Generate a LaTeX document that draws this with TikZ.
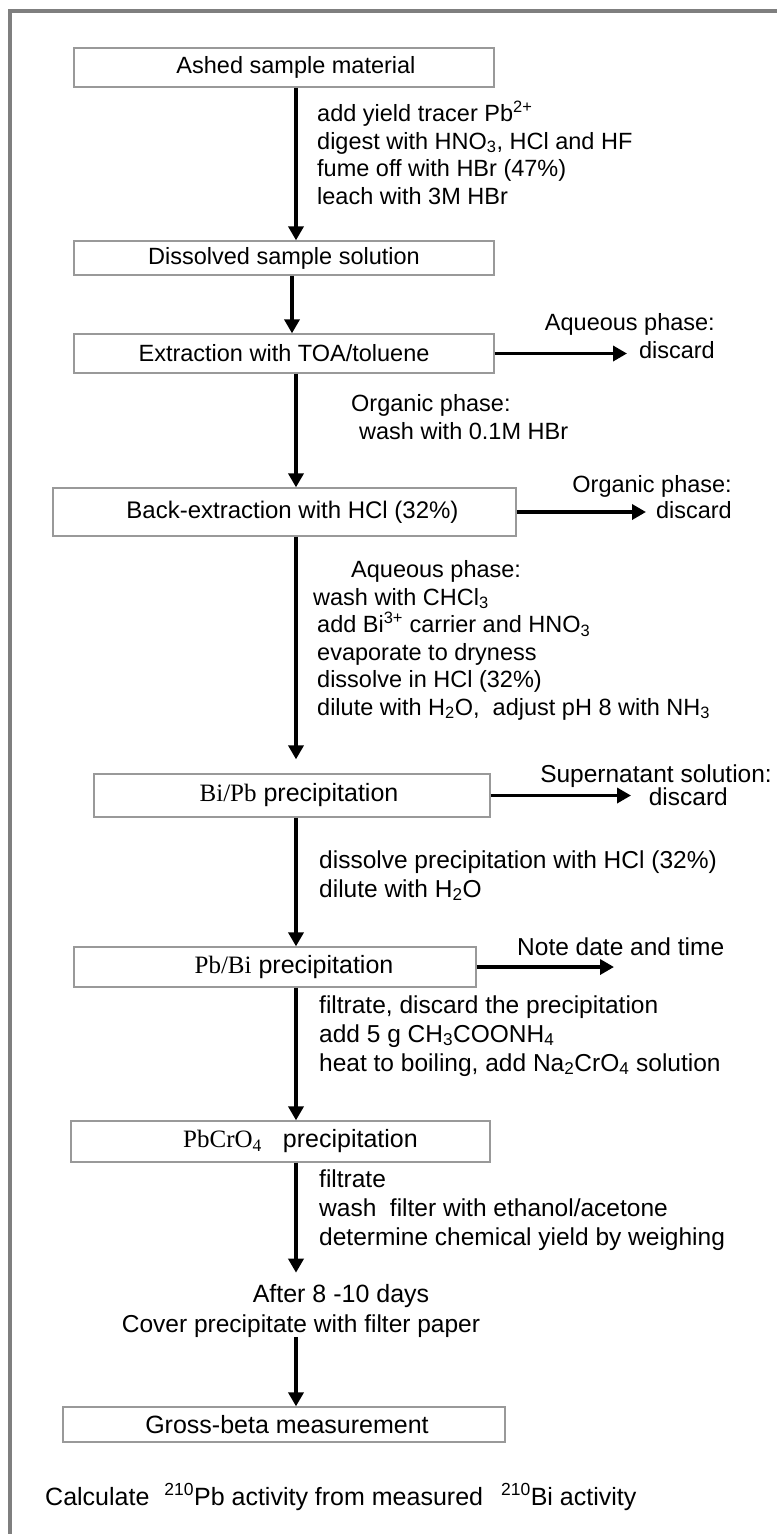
\documentclass[tikz,border=0pt]{standalone}
\usepackage{fontspec}
\setmainfont{Liberation Sans}
\newfontfamily\timesfont{Liberation Serif}
\usepackage{xcolor}
\usetikzlibrary{arrows.meta}
\definecolor{framegray}{HTML}{7F7F7F}
\definecolor{boxgray}{HTML}{999999}

\begin{document}
\begin{tikzpicture}[x=1pt, y=-1pt,
  every node/.style={font=\fontsize{23.5}{27.5}\selectfont},
  lower/.style={font=\fontsize{24.5}{29}\selectfont},
  large/.style={font=\fontsize{25}{29}\selectfont},
  box/.style={draw=boxgray, line width=1.3pt, inner sep=0pt},
  note/.style={align=left, inner sep=0pt, anchor=base west},
  side/.style={align=right, inner sep=0pt, anchor=base east},
  arr/.style={-{Triangle[length=14pt,width=15pt]}, line width=3.5pt}
]
\useasboundingbox (0,0) rectangle (777,1534);
\draw[framegray, line width=4pt] (9.5,1534) |- (777,11);

\coordinate (col)  at (296,0);
\coordinate (colb) at (292,0);

% process steps
\node[box, minimum width=420pt, minimum height=39pt] (ashed)     at (284,67.5)   {\hspace*{24pt}Ashed sample material};
\node[box, minimum width=420pt, minimum height=34pt] (dissolved) at (284,258)    {Dissolved sample solution};
\node[box, minimum width=420pt, minimum height=39pt] (extract)   at (284,353.5)  {Extraction with TOA/toluene};
\node[box, font=\fontsize{24}{28}\selectfont, minimum width=463pt, minimum height=48pt] (backext) at (284.5,512) {\hspace*{16pt}Back-extraction with HCl (32\%)};
\node[box, large, minimum width=396pt, minimum height=43pt] (bipb)  at (292,795.5)  {\hspace*{14pt}{\timesfont Bi/Pb} precipitation};
\node[box, large, minimum width=402pt, minimum height=40pt] (pbbi)  at (275,967)    {\hspace*{38pt}{\timesfont Pb/Bi} precipitation};
\node[box, large, minimum width=419pt, minimum height=41pt] (pbcro) at (280.5,1141.5) {\hspace*{40pt}{\timesfont PbCrO\textsubscript{4}}\hspace{21pt}precipitation};
\node[box, large, minimum width=442pt, minimum height=35pt] (gross) at (284,1424.5) {\hspace*{6pt}Gross-beta measurement};

% treatment notes (anchored at the baseline of their last line)
\node[note] (tracer) at (317,204) {add yield tracer Pb\textsuperscript{2+}\\digest with HNO\textsubscript{3}, HCl and HF\\fume off with HBr (47\%)\\leach with 3M HBr};
\node[note] (orgwash) at (351,439) {Organic phase:\\\hspace*{8pt}wash with 0.1M HBr};
\node[note] (aqwash) at (313,715) {\hspace*{38pt}Aqueous phase:\\wash with CHCl\textsubscript{3}\\\hspace*{4pt}add Bi\textsuperscript{3+} carrier and HNO\textsubscript{3}\\\hspace*{4pt}evaporate to dryness\\\hspace*{4pt}dissolve in HCl (32\%)\\\hspace*{4pt}dilute with H\textsubscript{2}O,\ \ adjust pH 8 with NH\textsubscript{3}};
\node[note, lower] (redissolve) at (319,897) {dissolve precipitation with HCl (32\%)\\dilute with H\textsubscript{2}O};
\node[note, lower] (filtrate) at (319,1071) {filtrate, discard the precipitation\\add 5 g CH\textsubscript{3}COONH\textsubscript{4}\\heat to boiling, add Na\textsubscript{2}CrO\textsubscript{4} solution};
\node[note, lower] (weigh) at (319,1245) {filtrate\\wash\ \ filter with ethanol/acetone\\determine chemical yield by weighing};
\node[large, inner sep=0pt, anchor=base] (after) at (341,1302) {After 8 -10 days};
\node[lower, inner sep=0pt, anchor=base] (cover) at (301,1332) {Cover precipitate with filter paper};
\node[note, large] (calc) at (45,1505) {Calculate\hspace{15pt}\textsuperscript{210}Pb activity from measured\hspace{18pt}\textsuperscript{210}Bi activity};

% side outputs
\node[side] (aqphase) at (715,358) {Aqueous phase:\\discard};
\node[side] (orgphase) at (732,518) {Organic phase:\\[-1.5pt]discard};
\node[side, lower] (superphase) at (772,805) {Supernatant solution:\\[-6pt]discard\hspace*{44pt}};
\node[note, lower] (notedate) at (517,955) {Note date and time};
\coordinate (aqend)    at (627,0);
\coordinate (orgend)   at (646,0);
\coordinate (superend) at (631,0);
\coordinate (noteend)  at (614,0);

\draw[arr] (ashed.south -| col) -- (dissolved.north -| col);
\draw[arr] (dissolved.south -| colb) -- (extract.north -| colb);
\draw[arr] (extract.south -| col) -- (backext.north -| col);
\draw[arr, shorten >=14pt] (backext.south -| col) -- (bipb.north -| col);
\draw[arr] (bipb.south -| col) -- (pbbi.north -| col);
\draw[arr] (pbbi.south -| col) -- (pbcro.north -| col);
\draw[arr, shorten >=11pt] (pbcro.south -| col) -- (after.north -| col);
\draw[arr] (cover.south -| col) -- (gross.north -| col);

\draw[arr] (extract.east) -- (extract.east -| aqend);
\draw[arr] (backext.east) -- (backext.east -| orgend);
\draw[arr] (bipb.east) -- (bipb.east -| superend);
\draw[arr] (pbbi.east) -- (pbbi.east -| noteend);
\end{tikzpicture}
\end{document}
